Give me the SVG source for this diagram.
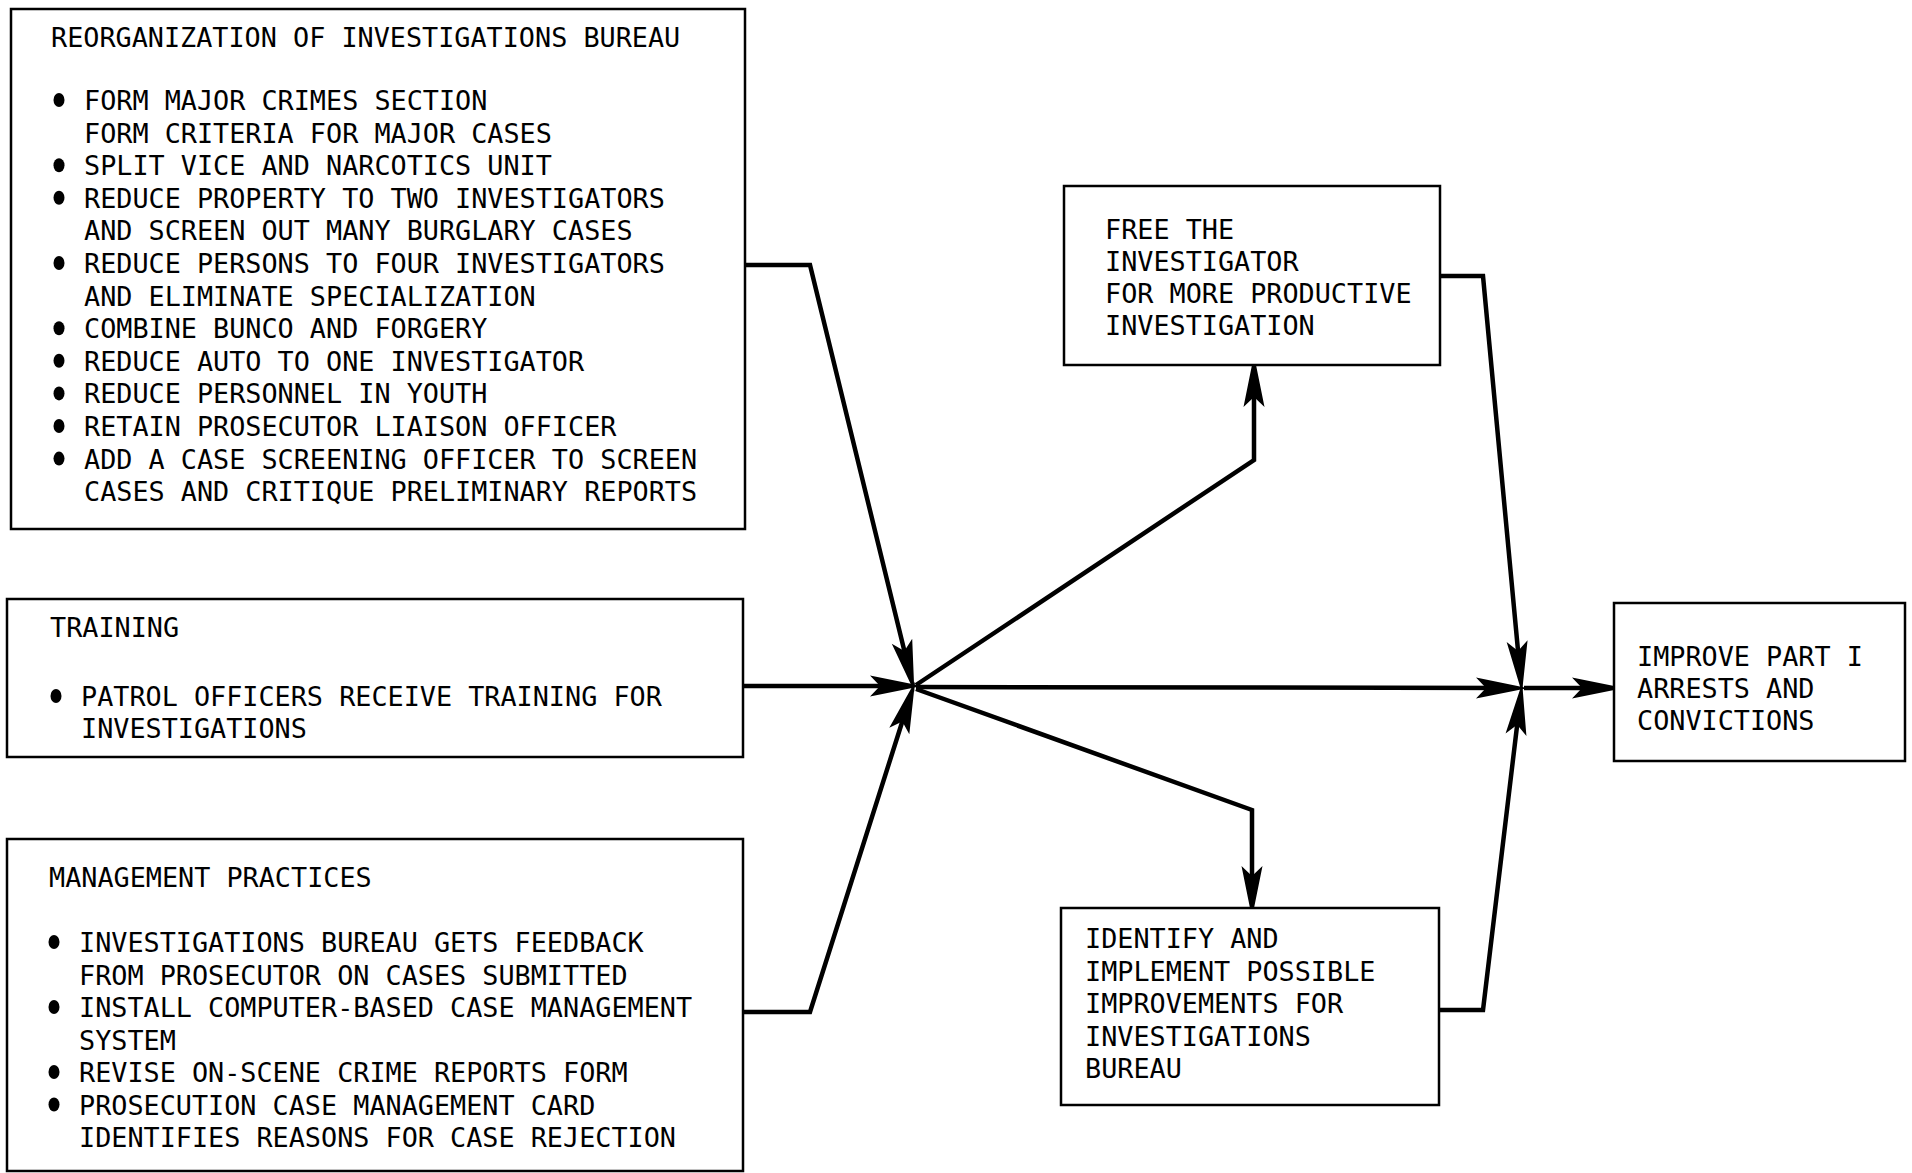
<svg xmlns="http://www.w3.org/2000/svg" width="1912" height="1173" viewBox="0 0 1912 1173">
  <style>
    .box { fill: #fff; stroke: #000; stroke-width: 2.5; }
    .t { font-family: "DejaVu Sans Mono", "Liberation Mono", monospace; font-size: 26.8px; fill: #000; }
    .dot { fill: #000; }
    .wire { fill: none; stroke: #000; stroke-width: 4.5; stroke-linejoin: miter; }
  </style>
  <defs>
    <!-- long barbed arrowhead; tip sits 10 units past the path end -->
    <marker id="ah" markerUnits="userSpaceOnUse" viewBox="-50 -14 64 28" refX="-10" refY="0" markerWidth="64" markerHeight="28" orient="auto">
      <path d="M10,0 L-42,-10.5 L-32,0 L-42,10.5 Z" fill="#000"/>
    </marker>
  </defs>
  <rect width="1912" height="1173" fill="#fff"/>

  <!-- connectors -->
  <g id="connectors">
    <path class="wire" d="M745,265 L810,265 L909.6,672.3" marker-end="url(#ah)"/>
    <path class="wire" d="M743,686 L902,686" marker-end="url(#ah)"/>
    <path class="wire" d="M743,1012 L810,1012 L909,700.5" marker-end="url(#ah)"/>
    <path class="wire" d="M916,685 L1254,460 L1254,375" marker-end="url(#ah)"/>
    <path class="wire" d="M916,689 L1252,810 L1252,898" marker-end="url(#ah)"/>
    <path class="wire" d="M916,687 L1508,688" marker-end="url(#ah)"/>
    <path class="wire" d="M1440,276 L1483,276 L1520.1,673" marker-end="url(#ah)"/>
    <path class="wire" d="M1439,1010 L1483,1010 L1519.8,702.9" marker-end="url(#ah)"/>
    <path class="wire" d="M1524,688 L1604,688" marker-end="url(#ah)"/>
  </g>

  <!-- reorganization -->
  <g id="reorganization">
    <rect class="box" x="11" y="9" width="734" height="520"/>
    <text class="t" x="51" y="47">REORGANIZATION OF INVESTIGATIONS BUREAU</text>
    <ellipse class="dot" cx="59" cy="100" rx="5.5" ry="7"/>
    <text class="t" x="84" y="110">FORM MAJOR CRIMES SECTION</text>
    <text class="t" x="84" y="142.6">FORM CRITERIA FOR MAJOR CASES</text>
    <ellipse class="dot" cx="59" cy="165.2" rx="5.5" ry="7"/>
    <text class="t" x="84" y="175.2">SPLIT VICE AND NARCOTICS UNIT</text>
    <ellipse class="dot" cx="59" cy="197.8" rx="5.5" ry="7"/>
    <text class="t" x="84" y="207.8">REDUCE PROPERTY TO TWO INVESTIGATORS</text>
    <text class="t" x="84" y="240.4">AND SCREEN OUT MANY BURGLARY CASES</text>
    <ellipse class="dot" cx="59" cy="263" rx="5.5" ry="7"/>
    <text class="t" x="84" y="273">REDUCE PERSONS TO FOUR INVESTIGATORS</text>
    <text class="t" x="84" y="305.6">AND ELIMINATE SPECIALIZATION</text>
    <ellipse class="dot" cx="59" cy="328.2" rx="5.5" ry="7"/>
    <text class="t" x="84" y="338.2">COMBINE BUNCO AND FORGERY</text>
    <ellipse class="dot" cx="59" cy="360.8" rx="5.5" ry="7"/>
    <text class="t" x="84" y="370.8">REDUCE AUTO TO ONE INVESTIGATOR</text>
    <ellipse class="dot" cx="59" cy="393.4" rx="5.5" ry="7"/>
    <text class="t" x="84" y="403.4">REDUCE PERSONNEL IN YOUTH</text>
    <ellipse class="dot" cx="59" cy="426" rx="5.5" ry="7"/>
    <text class="t" x="84" y="436">RETAIN PROSECUTOR LIAISON OFFICER</text>
    <ellipse class="dot" cx="59" cy="458.6" rx="5.5" ry="7"/>
    <text class="t" x="84" y="468.6">ADD A CASE SCREENING OFFICER TO SCREEN</text>
    <text class="t" x="84" y="501.2">CASES AND CRITIQUE PRELIMINARY REPORTS</text>
  </g>

  <!-- training -->
  <g id="training">
    <rect class="box" x="7" y="599" width="736" height="158"/>
    <text class="t" x="50" y="637">TRAINING</text>
    <ellipse class="dot" cx="56" cy="696" rx="5.5" ry="7"/>
    <text class="t" x="81" y="706">PATROL OFFICERS RECEIVE TRAINING FOR</text>
    <text class="t" x="81" y="738">INVESTIGATIONS</text>
  </g>

  <!-- management practices -->
  <g id="management">
    <rect class="box" x="7" y="839" width="736" height="332"/>
    <text class="t" x="49" y="887">MANAGEMENT PRACTICES</text>
    <ellipse class="dot" cx="54" cy="942" rx="5.5" ry="7"/>
    <text class="t" x="79" y="952">INVESTIGATIONS BUREAU GETS FEEDBACK</text>
    <text class="t" x="79" y="984.5">FROM PROSECUTOR ON CASES SUBMITTED</text>
    <ellipse class="dot" cx="54" cy="1007" rx="5.5" ry="7"/>
    <text class="t" x="79" y="1017">INSTALL COMPUTER-BASED CASE MANAGEMENT</text>
    <text class="t" x="79" y="1049.5">SYSTEM</text>
    <ellipse class="dot" cx="54" cy="1072" rx="5.5" ry="7"/>
    <text class="t" x="79" y="1082">REVISE ON-SCENE CRIME REPORTS FORM</text>
    <ellipse class="dot" cx="54" cy="1104.5" rx="5.5" ry="7"/>
    <text class="t" x="79" y="1114.5">PROSECUTION CASE MANAGEMENT CARD</text>
    <text class="t" x="79" y="1147">IDENTIFIES REASONS FOR CASE REJECTION</text>
  </g>

  <!-- free the investigator -->
  <g id="free-investigator">
    <rect class="box" x="1064" y="186" width="376" height="179"/>
    <text class="t" x="1105" y="239">FREE THE</text>
    <text class="t" x="1105" y="271">INVESTIGATOR</text>
    <text class="t" x="1105" y="303">FOR MORE PRODUCTIVE</text>
    <text class="t" x="1105" y="335">INVESTIGATION</text>
  </g>

  <!-- identify improvements -->
  <g id="identify-improvements">
    <rect class="box" x="1061" y="908" width="378" height="197"/>
    <text class="t" x="1085" y="948">IDENTIFY AND</text>
    <text class="t" x="1085" y="980.5">IMPLEMENT POSSIBLE</text>
    <text class="t" x="1085" y="1013">IMPROVEMENTS FOR</text>
    <text class="t" x="1085" y="1045.5">INVESTIGATIONS</text>
    <text class="t" x="1085" y="1078">BUREAU</text>
  </g>

  <!-- outcome -->
  <g id="improve-arrests">
    <rect class="box" x="1614" y="603" width="291" height="158"/>
    <text class="t" x="1637" y="666">IMPROVE PART I</text>
    <text class="t" x="1637" y="698">ARRESTS AND</text>
    <text class="t" x="1637" y="730">CONVICTIONS</text>
  </g>
</svg>
